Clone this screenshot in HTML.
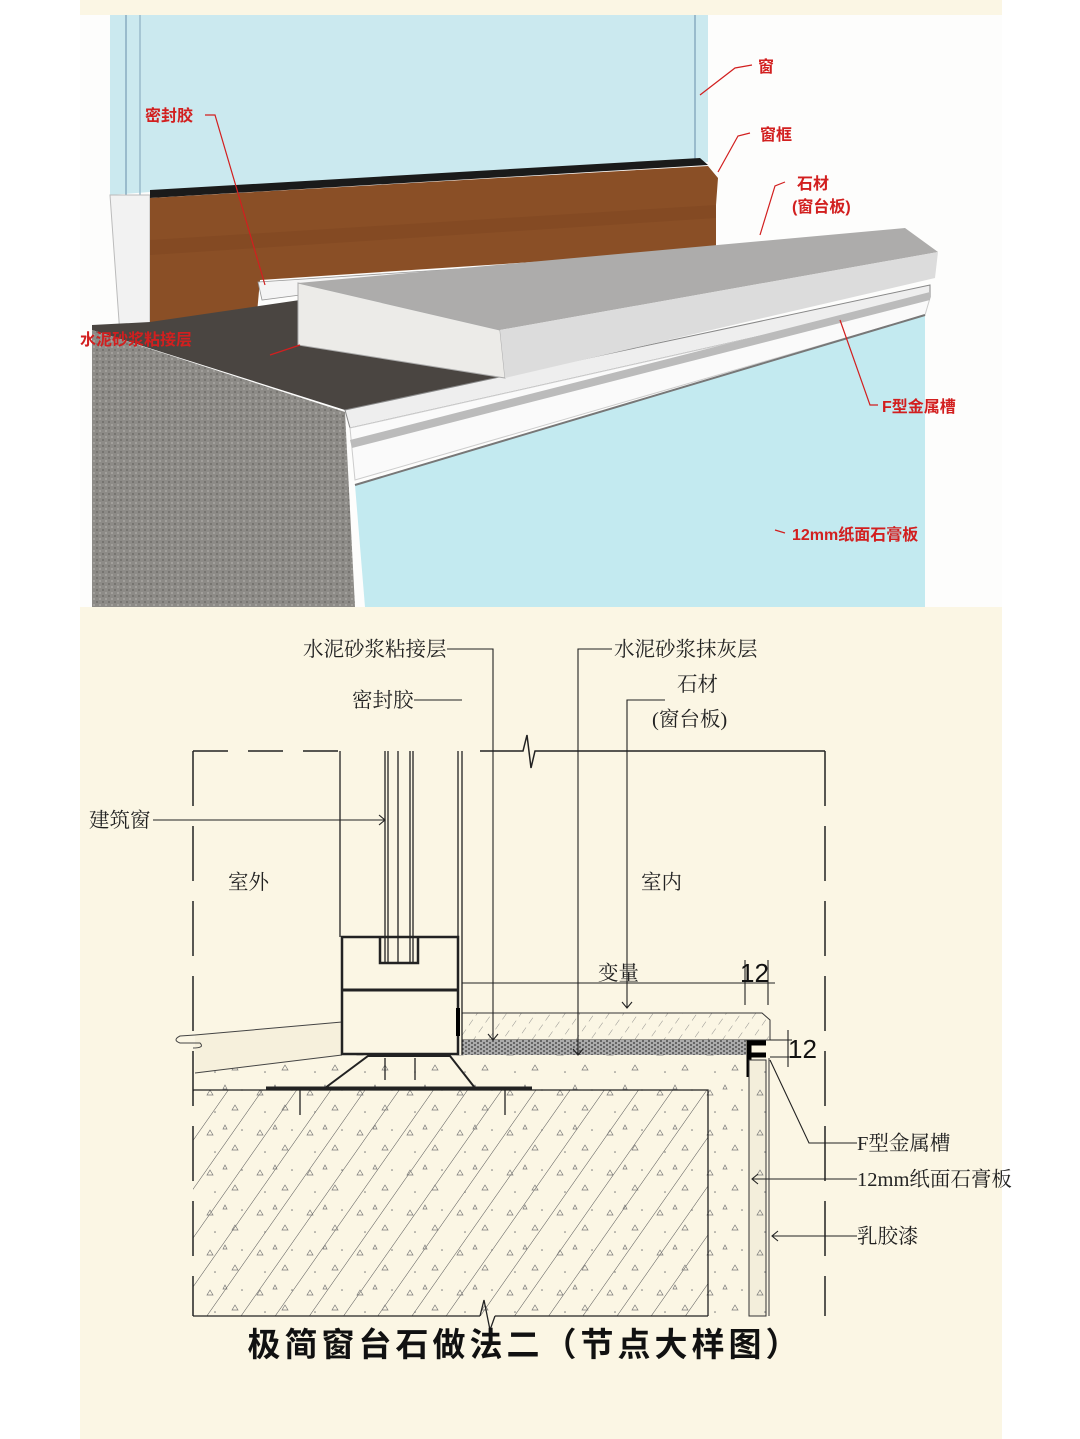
<!DOCTYPE html>
<html><head><meta charset="utf-8"><style>
html,body{margin:0;padding:0;background:#fff}
svg{display:block}
.lb{font-family:"Liberation Serif","Noto Serif CJK SC",serif;font-size:20.5px;fill:#222}
.rd{font-family:"Liberation Sans","Noto Sans CJK SC",sans-serif;font-size:16px;font-weight:bold;fill:#d21f1f}
</style></head><body>
<svg width="1080" height="1439" viewBox="0 0 1080 1439" xmlns="http://www.w3.org/2000/svg">
<defs>
<pattern id="hat" width="28" height="28" patternUnits="userSpaceOnUse" patternTransform="rotate(35)">
<line x1="0" y1="0" x2="0" y2="28" stroke="#555" stroke-width="1"/></pattern>
<pattern id="stn" width="12" height="12" patternUnits="userSpaceOnUse" patternTransform="rotate(35)">
<line x1="0" y1="0" x2="0" y2="7" stroke="#777" stroke-width="0.8"/></pattern>
<pattern id="dots" width="6" height="4" patternUnits="userSpaceOnUse">
<rect width="6" height="4" fill="#aaa"/><circle cx="1" cy="1" r="0.9" fill="#333"/><circle cx="4" cy="3" r="0.9" fill="#333"/></pattern>
<pattern id="tri" width="50" height="40" patternUnits="userSpaceOnUse">
<path d="M10 10l3 5h-6z M35 25l3 5h-6z M25 5l2 4h-4z" fill="none" stroke="#777" stroke-width="0.7"/><circle cx="42" cy="10" r="0.8" fill="#777"/><circle cx="15" cy="32" r="0.8" fill="#777"/></pattern>
<pattern id="conc" width="6" height="6" patternUnits="userSpaceOnUse">
<rect width="6" height="6" fill="#8d8b87"/><circle cx="1" cy="2" r="1" fill="#6e6c69"/><circle cx="4" cy="5" r="1" fill="#a9a7a3"/></pattern>
</defs>
<rect x="80" y="0" width="922" height="1439" fill="#fbf6e4"/>
<rect x="80" y="15" width="922" height="592" fill="#fdfdfc"/>

<polygon points="110,15 708,15 708,162 150,192 110,195" fill="#cbe9ef"/>
<line x1="126" y1="15" x2="126" y2="195" stroke="#9bc" stroke-width="2"/>
<line x1="140" y1="15" x2="140" y2="195" stroke="#9bc" stroke-width="1.5"/>
<line x1="695" y1="15" x2="695" y2="165" stroke="#9bc" stroke-width="2"/>
<polygon points="110,195 150,195 150,335 120,335" fill="#f2f2f2" stroke="#bbb"/>
<polygon points="150,190 700,158 708,165 150,198" fill="#1a1a1a"/>
<polygon points="150,198 708,166 718,178 716,205 716,250 260,280 255,335 150,335" fill="#8a4f26"/>
<polygon points="150,240 716,205 716,218 150,255" fill="#7a4420" opacity="0.4"/>
<polygon points="258,282 720,252 720,258 300,287 300,295 262,300" fill="#f4f4f4" stroke="#999" stroke-width="0.8"/>
<polygon points="92,325 150,322 300,300 520,375 505,395 345,410 92,330" fill="#4a4541"/>
<polygon points="345,410 505,395 505,405 350,420" fill="#333"/>
<polygon points="92,330 345,412 355,607 92,607" fill="url(#conc)"/>
<polygon points="345,410 930,285 930,298 350,428" fill="#eee" stroke="#888"/>
<polygon points="350,428 930,298 925,315 355,480" fill="#fafafa" stroke="#ccc"/>
<polygon points="350,440 930,292 930,300 352,448" fill="#bbb"/>
<polygon points="355,485 925,315 925,607 365,607" fill="#c3eaf0"/>
<line x1="355" y1="485" x2="925" y2="315" stroke="#777" stroke-width="2"/>
<polygon points="298,283 500,330 505,378 298,345" fill="#ecebe8" stroke="#aaa"/>
<polygon points="298,283 905,228 938,252 500,330" fill="#adacab"/>
<polygon points="500,330 938,252 935,278 505,378" fill="#dcdcdc"/>
<g stroke="#d21f1f" stroke-width="1.2" fill="none">
<path d="M752 65 L735 68 L700 95"/><path d="M750 133 L738 136 L718 172"/>
<path d="M785 182 L775 186 L760 235"/><path d="M205 115 L215 115 L265 285"/>
<path d="M300 345 L270 355"/><path d="M878 405 L870 405 L840 320"/>
<path d="M785 533 L775 530"/>
</g>
<text x="758" y="72" class="rd">窗</text>
<text x="760" y="140" class="rd">窗框</text>
<text x="797" y="189" class="rd">石材</text>
<text x="792" y="212" class="rd">(窗台板)</text>
<text x="145" y="121" class="rd">密封胶</text>
<text x="80" y="345" class="rd" font-size="14">水泥砂浆粘接层</text>
<text x="882" y="412" class="rd">F型金属槽</text>
<text x="792" y="540" class="rd">12mm纸面石膏板</text>

<polygon points="193,1055 746,1055 746,1316 708,1316 708,1090 193,1090" fill="url(#tri)"/>
<rect x="193" y="1090" width="515" height="226" fill="url(#hat)"/>
<rect x="193" y="1090" width="515" height="226" fill="url(#tri)"/>
<polygon points="195,1035 342,1022 342,1055 195,1073" fill="#f6f0dc"/>
<path d="M195 1035 L342 1022 M195 1073 L342 1055" stroke="#444" fill="none"/>
<path d="M195 1035 L180 1036 Q172 1040 180 1043 L200 1043 Q205 1048 193 1048" stroke="#444" fill="none"/>
<g stroke="#222" stroke-width="1.3" fill="none">
<path d="M193 1090 L708 1090 L708 1316"/>
<path d="M193 1316 L480 1316 M495 1316 L708 1316"/>
<path d="M480 1316 L484 1300 L490 1330 L495 1316"/>
</g>
<g stroke="#222" stroke-width="1.5" fill="none">
<path d="M193 751 L193 1316" stroke-dasharray="55,20"/>
<path d="M193 751 L340 751" stroke-dasharray="35,20"/>
<path d="M480 751 L523 751 L527 735 L531 768 L535 751 L825 751"/>
<path d="M825 751 L825 1316" stroke-dasharray="55,20"/>
</g>
<polygon points="462,1013 762,1013 770,1020 770,1040 462,1040" fill="url(#stn)" stroke="#333"/>
<rect x="462" y="1040" width="284" height="15" fill="url(#dots)"/>
<path d="M766 1043 L749 1043 L749 1077 M749 1055 L766 1055" stroke="#000" stroke-width="5" fill="none"/>
<rect x="749" y="1060" width="17" height="256" fill="#f3eedb" stroke="#333"/>
<rect x="749" y="1060" width="17" height="256" fill="url(#tri)"/>
<line x1="769" y1="1058" x2="769" y2="1316" stroke="#333"/>
<g stroke="#222" stroke-width="1.3" fill="none">
<path d="M340 751 L340 937 M458 751 L458 937 M462 751 L462 1055"/>
<path d="M385 751 L385 962 M388 751 L388 962 M398 751 L398 962 M410 751 L410 962 M413 751 L413 962"/>
<rect x="342" y="937" width="116" height="117" stroke-width="2.5"/>
<path d="M342 990 L458 990" stroke-width="3"/>
<path d="M380 937 L380 963 L418 963 L418 937" stroke-width="2.5"/>
<path d="M458 1008 L458 1036" stroke="#000" stroke-width="4"/>
<path d="M266 1088 L532 1088" stroke-width="3"/>
<path d="M325 1088 L368 1056 L450 1056 L475 1088" stroke-width="2"/>
<path d="M385 1058 L385 1080 M415 1058 L415 1080 M300 1088 L300 1115 M505 1088 L505 1115"/>
</g>
<g stroke="#222" stroke-width="1.1" fill="none">
<path d="M447 649 L493 649 L493 1040"/><path d="M414 700 L462 700"/>
<path d="M612 649 L578 649 L578 1055"/><path d="M665 700 L627 700 L627 1008"/>
<path d="M153 820 L385 820"/><path d="M379 815 L385 820 L379 825"/>
<path d="M488 1034 L493 1040 L498 1034 M573 1049 L578 1055 L583 1049 M622 1002 L627 1008 L632 1002"/>
<path d="M462 983 L775 983 M745 960 L745 1005 M768 960 L768 1005"/>
<path d="M770 1040 L792 1040 M770 1057 L792 1057 M788 1030 L788 1067"/>
<path d="M857 1143 L809 1143 L770 1060"/>
<path d="M857 1179 L752 1179 M758 1174 L752 1179 L758 1184"/>
<path d="M857 1236 L772 1236 M778 1231 L772 1236 L778 1241"/>
</g>
<text x="303" y="656" class="lb">水泥砂浆粘接层</text>
<text x="614" y="656" class="lb">水泥砂浆抹灰层</text>
<text x="352" y="707" class="lb">密封胶</text>
<text x="677" y="691" class="lb">石材</text>
<text x="652" y="726" class="lb">(窗台板)</text>
<text x="89" y="827" class="lb">建筑窗</text>
<text x="228" y="889" class="lb">室外</text>
<text x="641" y="889" class="lb">室内</text>
<text x="598" y="980" class="lb" font-size="18">变量</text>
<text x="740" y="982" font-family="Liberation Sans,sans-serif" font-size="26" fill="#111">12</text>
<text x="788" y="1058" font-family="Liberation Sans,sans-serif" font-size="26" fill="#111">12</text>
<text x="857" y="1150" class="lb">F型金属槽</text>
<text x="857" y="1186" class="lb">12mm纸面石膏板</text>
<text x="857" y="1243" class="lb">乳胶漆</text>
<text x="525" y="1356" text-anchor="middle" font-family="Liberation Sans,'Noto Sans CJK SC',sans-serif" font-size="33" font-weight="bold" letter-spacing="4" fill="#111">极简窗台石做法二（节点大样图）</text>
</svg>
</body></html>
